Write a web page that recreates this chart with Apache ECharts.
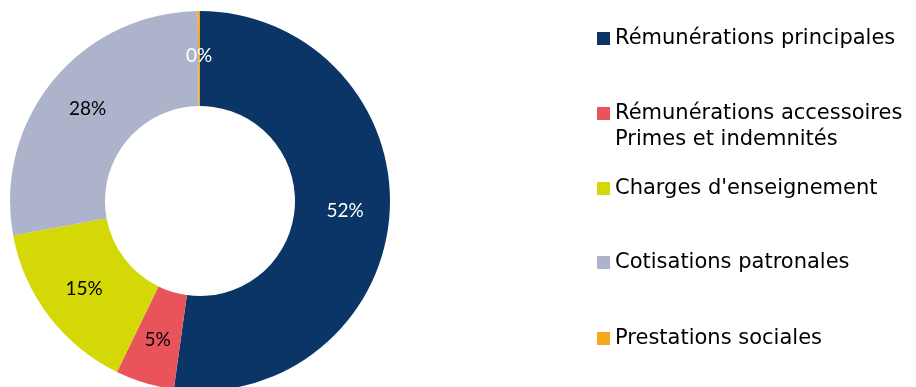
<!DOCTYPE html>
<html>
<head>
<meta charset="utf-8">
<script src="https://cdn.jsdelivr.net/npm/echarts@6/dist/echarts.min.js"></script>
<style>
html,body{margin:0;padding:0;background:#fff;}
#chart{width:916px;height:387px;}
</style>
</head>
<body>
<div id="chart"></div>
<script>
// Data
const categories = [
  "Rémunérations principales",
  "Rémunérations accessoires",
  "Charges d'enseignement",
  "Cotisations patronales",
  "Prestations sociales"
];
const legendLabels = [
  "Rémunérations principales",
  "Rémunérations accessoires\nPrimes et indemnités",
  "Charges d'enseignement",
  "Cotisations patronales",
  "Prestations sociales"
];
const values = [52.2, 5.0, 14.9, 27.7, 0.2];
const colors = ["#0a3566", "#e8545a", "#d4d806", "#aeb3cc", "#f5a81c"];
const labelColors = ["#ffffff", "#000000", "#000000", "#000000", "#ffffff"];

const legendIconTops = [32, 107, 182, 256, 332];

const chart = echarts.init(document.getElementById('chart'), null, {renderer: 'canvas'});

const legends = categories.map((name, i) => {
  const lines = legendLabels[i].split('\n').length;
  const lh = 26;
  const txt = lines > 1 ? '\n' + legendLabels[i] : legendLabels[i];
  const nLines = lines > 1 ? lines + 1 : 1;
  const top = legendIconTops[i] + 6.5 - (nLines * lh) / 2;
  return {
    data: [name],
    left: 597,
    top: top,
    orient: 'vertical',
    padding: 0,
    itemWidth: 13,
    itemHeight: 13,
    itemGap: 0,
    icon: 'rect',
    selectedMode: false,
    formatter: () => txt,
    textStyle: {
      fontFamily: 'DejaVu Sans',
      fontSize: 21,
      color: '#000000',
      lineHeight: lh
    }
  };
});

chart.setOption({
  animation: false,
  color: colors,
  legend: legends,
  series: [{
    type: 'pie',
    center: [200, 201],
    radius: [95, 190],
    startAngle: 90,
    clockwise: true,
    avoidLabelOverlap: false,
    silent: true,
    itemStyle: {borderWidth: 0},
    label: {
      show: true,
      position: 'inside',
      fontFamily: 'Lato',
      fontSize: 19,
      padding: [4, 0, 0, 0],
      formatter: p => Math.round(p.percent) + '%'
    },
    labelLine: {show: false},
    data: categories.map((name, i) => ({
      name: name,
      value: values[i],
      label: {color: labelColors[i]}
    }))
  }]
});
</script>
</body>
</html>
